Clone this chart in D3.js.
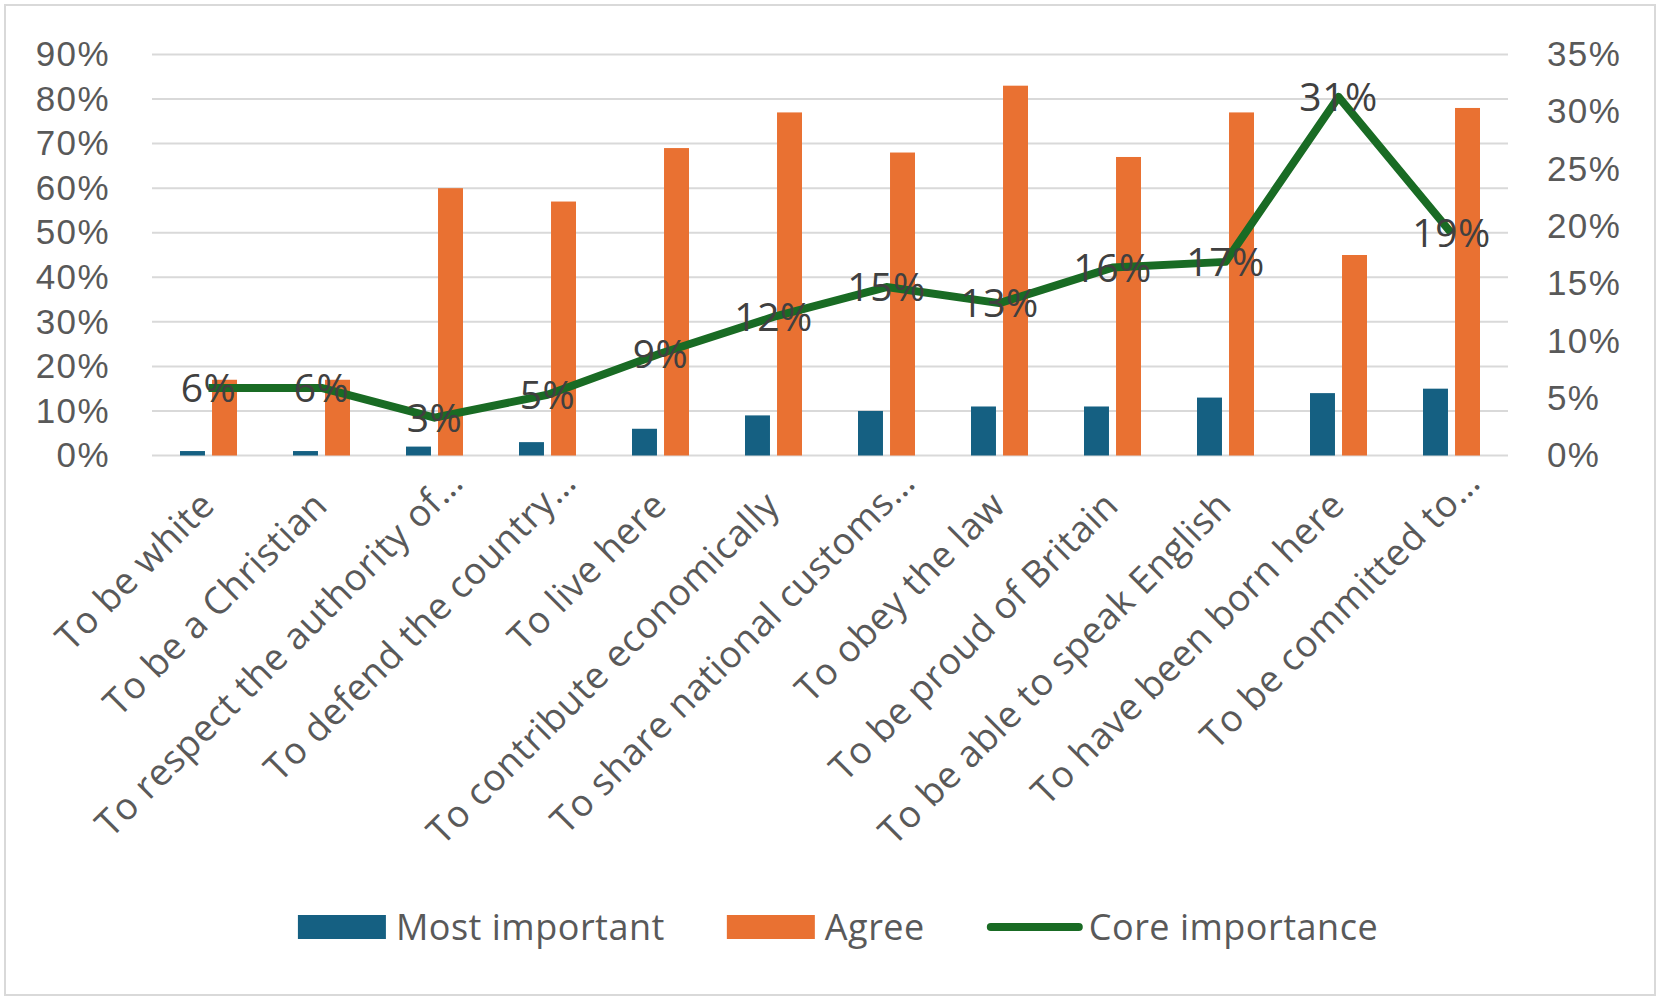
<!DOCTYPE html>
<html lang="en">
<head>
    <meta charset="UTF-8">
    <title>Core importance chart</title>
    <style>
        body {
            margin: 0;
            padding: 0;
            background-color: white;
            font-family: "Open Sans", Arial, sans-serif;
        }
        .grid line {
            stroke: #d9d9d9;
            stroke-width: 2;
        }
        .axis text {
            fill: #595959;
            font-size: 35px;
            letter-spacing: 1.4px;
        }
        .xlabels text {
            fill: #595959;
            font-size: 37px;
            letter-spacing: 0.5px;
        }
    </style>
    <script src="https://d3js.org/d3.v7.min.js"></script>
</head>
<body>
    <div id="chart"></div>

    <script>
        // categories (Excel truncated the long ones with an ellipsis)
        const categories = [
            "To be white",
            "To be a Christian",
            "To respect the authority of…",
            "To defend the country…",
            "To live here",
            "To contribute economically",
            "To share national customs…",
            "To obey the law",
            "To be proud of Britain",
            "To be able to speak English",
            "To have been born here",
            "To be committed to…"
        ];
        const mostImportant = [0.01, 0.01, 0.02, 0.03, 0.06, 0.09, 0.10, 0.11, 0.11, 0.13, 0.14, 0.15];
        const agree = [0.17, 0.17, 0.60, 0.57, 0.69, 0.77, 0.68, 0.83, 0.67, 0.77, 0.45, 0.78];
        const coreImportance = [0.059, 0.059, 0.033, 0.053, 0.089, 0.121, 0.147, 0.133, 0.164, 0.169, 0.313, 0.194];
        const leftTicks = [0, 0.1, 0.2, 0.3, 0.4, 0.5, 0.6, 0.7, 0.8, 0.9];
        const rightTicks = [0, 0.05, 0.10, 0.15, 0.20, 0.25, 0.30, 0.35];
        const seriesNames = ["Most important", "Agree", "Core importance"];

        const colors = { "Most important": "#156082", "Agree": "#E97132", "Core importance": "#196B24" };

        const width = 1663, height = 1003;
        const plot = { left: 152, right: 1508, top: 54.5, bottom: 455.5 };

        const svg = d3.select("#chart")
            .append("svg")
            .attr("width", width)
            .attr("height", height);

        // chart frame
        svg.append("rect")
            .attr("x", 5).attr("y", 5)
            .attr("width", 1650).attr("height", 990)
            .attr("fill", "white")
            .attr("stroke", "#d9d9d9")
            .attr("stroke-width", 2);

        const x = d3.scaleBand()
            .domain(categories)
            .range([plot.left, plot.right])
            .padding(0);

        const xInner = d3.scaleBand()
            .domain(["Most important", "Agree"])
            .range([-28.5, 28.5])
            .paddingInner(0.22);

        const yLeft = d3.scaleLinear().domain([0, 0.9]).range([plot.bottom, plot.top]);
        const yRight = d3.scaleLinear().domain([0, 0.35]).range([plot.bottom, plot.top]);

        // gridlines
        svg.append("g")
            .attr("class", "grid")
            .selectAll("line")
            .data(leftTicks)
            .enter().append("line")
            .attr("x1", plot.left)
            .attr("x2", plot.right)
            .attr("y1", d => yLeft(d))
            .attr("y2", d => yLeft(d));

        // left axis
        const leftAxis = svg.append("g")
            .attr("class", "axis")
            .attr("transform", `translate(${plot.left},0)`)
            .call(d3.axisLeft(yLeft).tickValues(leftTicks).tickFormat(d3.format(".0%")).tickSize(0).tickPadding(42));
        leftAxis.select(".domain").remove();
        leftAxis.selectAll("text").attr("font-family", null).attr("font-size", null);

        // right axis
        const rightAxis = svg.append("g")
            .attr("class", "axis")
            .attr("transform", `translate(${plot.right},0)`)
            .call(d3.axisRight(yRight).tickValues(rightTicks).tickFormat(d3.format(".0%")).tickSize(0).tickPadding(39));
        rightAxis.select(".domain").remove();
        rightAxis.selectAll("text").attr("font-family", null).attr("font-size", null);

        // bars
        const barData = categories.map((c, i) => ({ cat: c, values: [
            { name: "Most important", v: mostImportant[i] },
            { name: "Agree", v: agree[i] }
        ] }));

        const groups = svg.append("g")
            .selectAll("g")
            .data(barData)
            .enter().append("g")
            .attr("transform", d => `translate(${x(d.cat) + x.bandwidth() / 2},0)`);

        groups.selectAll("rect")
            .data(d => d.values)
            .enter().append("rect")
            .attr("x", d => xInner(d.name))
            .attr("y", d => yLeft(d.v))
            .attr("width", xInner.bandwidth())
            .attr("height", d => yLeft(0) - yLeft(d.v))
            .attr("fill", d => colors[d.name]);

        // x labels, rotated
        svg.append("g")
            .attr("class", "xlabels")
            .selectAll("text")
            .data(categories)
            .enter().append("text")
            .attr("transform", d => `translate(${x(d) + x.bandwidth() / 2 + 8},${plot.bottom + 52}) rotate(-45)`)
            .attr("text-anchor", "end")
            .attr("dx", d => d.endsWith("…") ? 32 : 0)
            .text(d => d);

        // line
        const line = d3.line()
            .x((d, i) => x(categories[i]) + x.bandwidth() / 2)
            .y(d => yRight(d));

        svg.append("path")
            .datum(coreImportance)
            .attr("fill", "none")
            .attr("stroke", colors["Core importance"])
            .attr("stroke-width", 8)
            .attr("stroke-linejoin", "round")
            .attr("d", line);

        // data labels
        svg.append("g")
            .selectAll("text")
            .data(coreImportance)
            .enter().append("text")
            .attr("x", (d, i) => x(categories[i]) + x.bandwidth() / 2)
            .attr("y", d => yRight(d))
            .attr("dy", "0.36em")
            .attr("text-anchor", "middle")
            .attr("fill", "#404040")
            .attr("font-size", 39)
            .attr("letter-spacing", "0.5px")
            .text(d => Math.round(d * 100) + "%");

        // legend
        const legend = svg.append("g").attr("transform", "translate(0,927)");
        const items = legend.selectAll("g")
            .data(seriesNames)
            .enter().append("g");

        items.each(function(name) {
            const g = d3.select(this);
            if (name === "Core importance") {
                g.append("line")
                    .attr("x1", 4).attr("x2", 92)
                    .attr("stroke", colors[name])
                    .attr("stroke-width", 8)
                    .attr("stroke-linecap", "round");
            } else {
                g.append("rect")
                    .attr("y", -12).attr("width", 88).attr("height", 24)
                    .attr("fill", colors[name]);
            }
            g.append("text")
                .attr("x", name === "Core importance" ? 102 : 98)
                .attr("dy", "0.36em")
                .attr("fill", "#595959")
                .attr("font-size", 36)
                .attr("letter-spacing", "0.5px")
                .text(name);
        });

        // lay the legend out centred
        let widths = [];
        items.each(function() { widths.push(this.getBBox().width); });
        const gap = 62;
        const total = d3.sum(widths) + gap * (widths.length - 1);
        let cursor = 836 - total / 2;
        items.attr("transform", (d, i) => {
            const t = `translate(${cursor},0)`;
            cursor += widths[i] + gap;
            return t;
        });
    </script>
</body>
</html>
